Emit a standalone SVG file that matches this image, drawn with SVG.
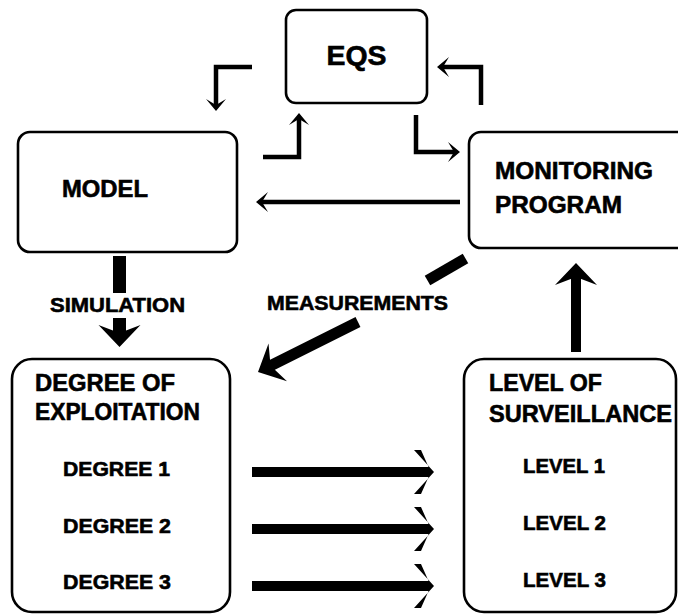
<svg xmlns="http://www.w3.org/2000/svg" xmlns:xlink="http://www.w3.org/1999/xlink" width="678" height="614" viewBox="0 0 678 614">
<style>
.box{fill:#fff;stroke:#000;stroke-width:2.6}
.t{font-family:"Liberation Sans",Arial,sans-serif;font-weight:bold;fill:#000;stroke:#000;stroke-width:0.6}
.h{font-size:24px}
.s{font-size:21px}
.thin{fill:none;stroke:#000;stroke-width:4.5;stroke-linejoin:miter;stroke-linecap:butt}
.thick{fill:none;stroke:#000;stroke-linecap:butt}
.head{fill:#000}
</style>
<defs>
<polygon id="smallhead" points="0,0 -12,-10 -6,0 -12,10"/>
<polygon id="bighead" points="0,0 -22,-21 -14,0 -22,21"/>
<polygon id="chevron" points="2,0 -18,-22 -11,-22 -3,-4 -3,4 -11,22 -18,22"/>
</defs>
<rect width="678" height="614" fill="#fff"/>

<g id="eqs">
<rect class="box" x="286" y="10" width="141" height="93" rx="10"/>
<text class="t" x="356.5" y="65" font-size="28" text-anchor="middle" textLength="60" lengthAdjust="spacingAndGlyphs">EQS</text>
</g>

<g id="model">
<rect class="box" x="18" y="132" width="219" height="120" rx="12"/>
<text class="t h" x="62" y="197" textLength="86" lengthAdjust="spacingAndGlyphs">MODEL</text>
</g>

<g id="monitoring">
<rect class="box" x="469" y="132" width="240" height="116" rx="12"/>
<text class="t h" x="495" y="179" textLength="158" lengthAdjust="spacingAndGlyphs">MONITORING</text>
<text class="t h" x="495" y="213" textLength="127" lengthAdjust="spacingAndGlyphs">PROGRAM</text>
</g>

<g id="degree">
<rect class="box" x="12" y="359" width="218" height="253" rx="20"/>
<text class="t h" x="35" y="391" textLength="140" lengthAdjust="spacingAndGlyphs">DEGREE OF</text>
<text class="t h" x="35" y="420" textLength="165" lengthAdjust="spacingAndGlyphs">EXPLOITATION</text>
<text class="t s" x="63" y="476" textLength="107" lengthAdjust="spacingAndGlyphs">DEGREE 1</text>
<text class="t s" x="63" y="533" textLength="108" lengthAdjust="spacingAndGlyphs">DEGREE 2</text>
<text class="t s" x="63" y="589" textLength="108" lengthAdjust="spacingAndGlyphs">DEGREE 3</text>
</g>

<g id="level">
<rect class="box" x="464" y="359" width="212" height="253" rx="20"/>
<text class="t h" x="489" y="391" textLength="113" lengthAdjust="spacingAndGlyphs">LEVEL OF</text>
<text class="t h" x="489" y="422" textLength="183" lengthAdjust="spacingAndGlyphs">SURVEILLANCE</text>
<text class="t s" x="523" y="473" textLength="82" lengthAdjust="spacingAndGlyphs">LEVEL 1</text>
<text class="t s" x="523" y="530" textLength="83" lengthAdjust="spacingAndGlyphs">LEVEL 2</text>
<text class="t s" x="523" y="587" textLength="83" lengthAdjust="spacingAndGlyphs">LEVEL 3</text>
</g>

<g id="connectors">
<!-- EQS -> MODEL elbow -->
<polyline class="thin" points="252,67 216,67 216,105"/>
<use xlink:href="#smallhead" class="head" transform="translate(216,111) rotate(90)"/>
<!-- MODEL -> EQS elbow -->
<polyline class="thin" points="263,157 299,157 299,119"/>
<use xlink:href="#smallhead" class="head" transform="translate(299,113) rotate(-90)"/>
<!-- MONITORING -> EQS elbow -->
<polyline class="thin" points="481,105 481,67 443,67"/>
<use xlink:href="#smallhead" class="head" transform="translate(437,67) rotate(180)"/>
<!-- EQS -> MONITORING elbow -->
<polyline class="thin" points="416,115 416,152 454,152"/>
<use xlink:href="#smallhead" class="head" transform="translate(460,152)"/>
<!-- MONITORING -> MODEL -->
<line class="thin" x1="460" y1="202" x2="262" y2="202"/>
<use xlink:href="#smallhead" class="head" transform="translate(256,202) rotate(180)"/>

<!-- SIMULATION -->
<line class="thick" x1="119.5" y1="256" x2="119.5" y2="293" stroke-width="13"/>
<text class="t s" x="50" y="312" textLength="135" lengthAdjust="spacingAndGlyphs">SIMULATION</text>
<line class="thick" x1="119.5" y1="318" x2="119.5" y2="334" stroke-width="13"/>
<use xlink:href="#bighead" class="head" transform="translate(119.5,347) rotate(90)"/>

<!-- MEASUREMENTS -->
<line class="thick" x1="465.5" y1="258.5" x2="427.5" y2="280.5" stroke-width="11"/>
<text class="t s" x="267" y="310" textLength="181" lengthAdjust="spacingAndGlyphs">MEASUREMENTS</text>
<line class="thick" x1="358" y1="322" x2="270" y2="366" stroke-width="11"/>
<use xlink:href="#bighead" class="head" transform="translate(258,372) rotate(153.9)"/>

<!-- LEVEL -> MONITORING -->
<line class="thick" x1="576" y1="352" x2="576" y2="277" stroke-width="10"/>
<use xlink:href="#bighead" class="head" transform="translate(576,263) rotate(-90)"/>

<!-- DEGREE -> LEVEL -->
<line class="thick" x1="252" y1="472" x2="429" y2="472" stroke-width="10"/>
<use xlink:href="#chevron" class="head" transform="translate(432,472)"/>
<line class="thick" x1="252" y1="529" x2="429" y2="529" stroke-width="10"/>
<use xlink:href="#chevron" class="head" transform="translate(432,529)"/>
<line class="thick" x1="252" y1="586" x2="429" y2="586" stroke-width="10"/>
<use xlink:href="#chevron" class="head" transform="translate(432,586)"/>
</g>
</svg>
